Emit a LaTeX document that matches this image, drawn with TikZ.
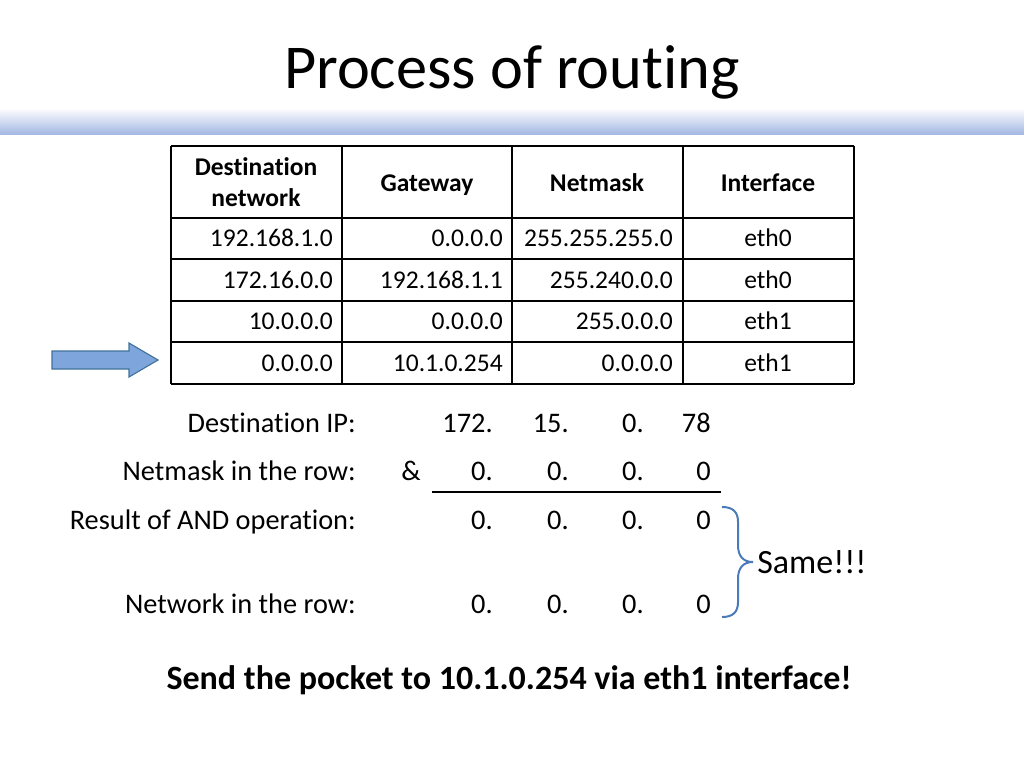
\documentclass[tikz,border=0pt]{standalone}
\usepackage{fontspec}
\setmainfont{Carlito}[Ligatures=NoCommon]
\usetikzlibrary{positioning}
\definecolor{bandblue}{RGB}{164,184,228}
\definecolor{arrowfill}{RGB}{126,166,220}
\definecolor{arrowline}{RGB}{65,113,156}
\definecolor{bracecol}{RGB}{74,122,184}

\begin{document}
\begin{tikzpicture}[x=0.248mm, y=-0.248mm]
\tikzstyle{cell}=[font=\fontsize{18}{21}\selectfont, inner sep=0pt];
\tikzstyle{head}=[font=\fontsize{18}{22}\selectfont\bfseries, inner sep=0pt, align=center];
\tikzstyle{calc}=[font=\fontsize{20}{24}\selectfont, inner sep=0pt, anchor=base east];
\useasboundingbox (0,0) rectangle (1024,768);
% title and band
\node (title) at (512,72) {\fontsize{44}{52}\selectfont Process of routing};
\shade[top color=white, bottom color=bandblue] (0,108) rectangle (1024,134);
% routing table grid
\foreach \x in {171,342,512,683,854}
{\draw[line width=0.9pt] (\x,146) -- (\x,384);}
\foreach \y in {146,218,259,301,342,384}
{\draw[line width=0.9pt] (171,\y) -- (854,\y);}
\node[head] (hdst) at (256,182) {Destination\\network};
\node[head, anchor=base] (hgw) at (427,191) {Gateway};
\node[head, anchor=base] (hmask) at (597,191) {Netmask};
\node[head, anchor=base] (hif) at (768,191) {Interface};
\foreach \r/\y/\d/\g/\m/\i in {1/246/192.168.1.0/0.0.0.0/255.255.255.0/eth0,
                          2/288/172.16.0.0/192.168.1.1/255.240.0.0/eth0,
                          3/329/10.0.0.0/0.0.0.0/255.0.0.0/eth1,
                          4/371/0.0.0.0/10.1.0.254/0.0.0.0/eth1}
{\node[cell, anchor=base east] (dst\r) at (333,\y) {\d};
 \node[cell, anchor=base east] (gw\r) at (503,\y) {\g};
 \node[cell, anchor=base east] (mask\r) at (673,\y) {\m};
 \node[cell, anchor=base] (if\r) at (768,\y) {\i};}
% pointer arrow
\draw[fill=arrowfill, draw=arrowline, line width=0.8pt] (52,351) -- (129,351) -- (129,343) -- (158,360) -- (129,377) -- (129,369) -- (52,369) -- cycle;
% AND calculation
\node[calc] (ldst) at (356,432) {Destination IP:};
\node[calc] (lmask) at (356,480) {Netmask in the row:};
\node[calc] (lres) at (356,529) {Result of AND operation:};
\node[calc] (lnet) at (356,613) {Network in the row:};
\node[calc] (amp) at (421,480) {\&};
\foreach \k/\x/\a/\b/\c in {1/493/172./0./0., 2/569/15./0./0., 3/644/0./0./0., 4/711/78/0/0}
{\node[calc] (ip\k) at (\x,432) {\a};
 \node[calc] (nm\k) at (\x,480) {\b};
 \node[calc] (res\k) at (\x,529) {\c};
 \node[calc] (net\k) at (\x,613) {\c};}
\coordinate (ulstart) at (432,492);
\coordinate (ulend) at (721,492);
\draw[line width=0.8pt] (ulstart) -- (ulend);
% brace
\coordinate (btop) at (722,507);
\coordinate (bmid) at (753,562);
\coordinate (bbot) at (722,617);
\draw[bracecol, line width=1.4pt] (btop) .. controls (733,507) and (738,512) .. (738,522) -- (738,545) .. controls (738,556) and (743,562) .. (bmid)
  .. controls (743,562) and (738,568) .. (738,579) -- (738,602) .. controls (738,612) and (733,617) .. (bbot);
\node[font=\fontsize{24}{28}\selectfont, inner sep=0pt, anchor=base west] (same) at (757,573) {Same!!!};
% result
\node[font=\fontsize{24}{28}\selectfont\bfseries, inner sep=0pt, anchor=base] (send) at (509,689) {Send the pocket to 10.1.0.254 via eth1 interface!};
\end{tikzpicture}
\end{document}
